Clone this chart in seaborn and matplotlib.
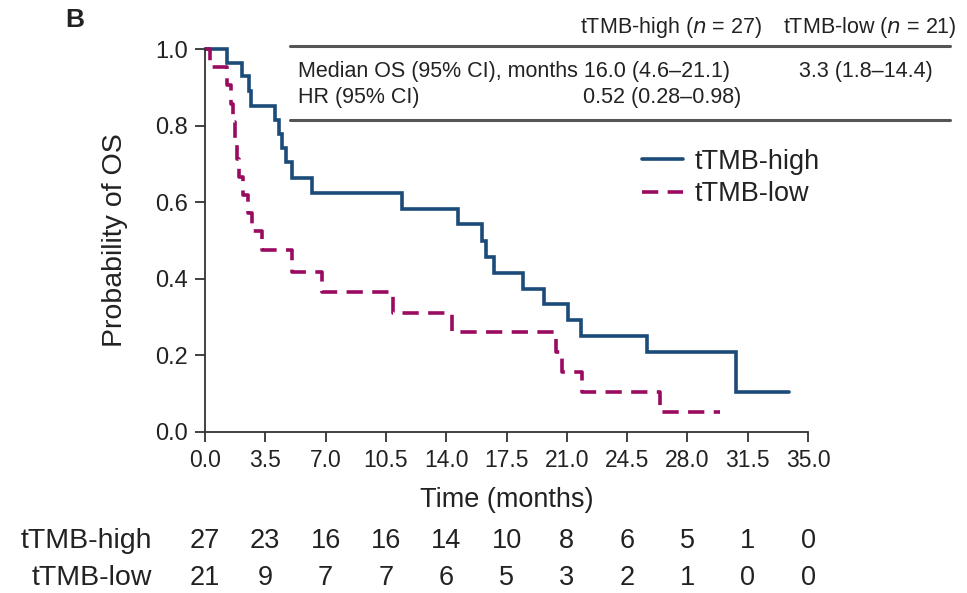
import numpy as np
import pandas as pd
import matplotlib
matplotlib.use("Agg")
import matplotlib.pyplot as plt
from matplotlib.lines import Line2D
import seaborn as sns

# Kaplan-Meier step estimates (time in months, survival probability)
high_time = [0.0, 1.25, 2.13, 2.57, 2.65, 4.07, 4.3, 4.45, 4.7, 5.04, 6.2,
             11.45, 14.7, 16.06, 16.3, 16.77, 18.47, 19.68, 21.09, 21.8,
             25.63, 30.82, 33.9]
high_surv = [1.0, 0.963, 0.930, 0.891, 0.852, 0.815, 0.778, 0.741, 0.704,
             0.662, 0.625, 0.583, 0.544, 0.500, 0.456, 0.416, 0.374, 0.335,
             0.292, 0.251, 0.209, 0.104, 0.104]

low_time = [0.0, 0.3, 1.3, 1.5, 1.62, 1.74, 1.86, 2.0, 2.2, 2.5, 2.71, 3.29,
            5.03, 6.78, 10.93, 14.36, 20.35, 20.75, 21.86, 26.4, 29.9]
low_surv = [1.0, 0.952, 0.905, 0.857, 0.810, 0.762, 0.714, 0.667, 0.619,
            0.571, 0.524, 0.476, 0.418, 0.366, 0.311, 0.262, 0.210, 0.157,
            0.105, 0.052, 0.052]

x_ticks = [0.0, 3.5, 7.0, 10.5, 14.0, 17.5, 21.0, 24.5, 28.0, 31.5, 35.0]
y_ticks = [0.0, 0.2, 0.4, 0.6, 0.8, 1.0]
at_risk_high = [27, 23, 16, 16, 14, 10, 8, 6, 5, 1, 0]
at_risk_low = [21, 9, 7, 7, 6, 5, 3, 2, 1, 0, 0]

groups = ["tTMB-high", "tTMB-low"]
colors = {"tTMB-high": "#1b4b78", "tTMB-low": "#9a0a60"}

df = pd.concat([
    pd.DataFrame({"time": high_time, "surv": high_surv, "group": groups[0]}),
    pd.DataFrame({"time": low_time, "surv": low_surv, "group": groups[1]}),
], ignore_index=True)

sns.set_theme(style="ticks")
plt.rcParams["font.family"] = ["Liberation Sans", "DejaVu Sans"]

W, H = 967, 593
fig = plt.figure(figsize=(W / 100, H / 100), dpi=100)
ax = fig.add_axes([205 / W, 1 - 432 / H, 603 / W, 383 / H])

for g, ls in zip(groups, ["-", (0, (4.5, 2.6))]):
    sub = df[df["group"] == g]
    sns.lineplot(data=sub, x="time", y="surv", ax=ax, color=colors[g],
                 estimator=None, sort=False, drawstyle="steps-post",
                 linewidth=2.6, linestyle=ls, label=g, clip_on=False,
                 solid_joinstyle="miter", dash_capstyle="butt")

ax.set_xlim(0, 35)
ax.set_ylim(0, 1.0)
ax.set_xticks(x_ticks)
ax.set_xticklabels([f"{t:.1f}" for t in x_ticks])
ax.set_yticks(y_ticks)
ax.set_yticklabels([f"{t:.1f}" for t in y_ticks])
ax.tick_params(axis="x", labelsize=16.5, length=7, width=1.3,
               color="#333333", labelcolor="#222222", pad=5)
ax.tick_params(axis="y", labelsize=17, length=7, width=1.3,
               color="#333333", labelcolor="#222222", pad=5)
for s in ["top", "right"]:
    ax.spines[s].set_visible(False)
for s in ["left", "bottom"]:
    ax.spines[s].set_linewidth(1.3)
    ax.spines[s].set_color("#333333")
ax.set_xlabel("Time (months)", fontsize=19.5, color="#222222", labelpad=11)
ax.set_ylabel("Probability of OS", fontsize=20.5, color="#222222", labelpad=20)

leg = ax.legend(loc="upper left", bbox_to_anchor=(0.725, 0.74), frameon=False,
                fontsize=19.5, handlelength=1.5, handletextpad=0.45,
                labelspacing=0.25, borderaxespad=0, borderpad=0)
for t in leg.get_texts():
    t.set_color("#222222")

# Panel letter
fig.text(65 / W, 1 - 20 / H, "B", fontsize=19, fontweight="bold",
         ha="left", va="center", color="#222222")

# Summary table
tfs = 15.5
fig.text(762 / W, 1 - 28 / H, r"tTMB-high ($\it{n}$ = 27)", fontsize=tfs,
         ha="right", va="center", color="#222222")
fig.text(957 / W, 1 - 28 / H, r"tTMB-low ($\it{n}$ = 21)", fontsize=tfs,
         ha="right", va="center", color="#222222")
for yy in (46, 120):
    fig.add_artist(Line2D([290 / W, 950 / W], [1 - yy / H, 1 - yy / H],
                          transform=fig.transFigure, color="#555555", lw=2.2))
fig.text(298 / W, 1 - 71 / H, "Median OS (95% CI), months 16.0 (4.6\u201321.1)",
         fontsize=tfs, ha="left", va="center", color="#222222")
fig.text(933 / W, 1 - 71 / H, "3.3 (1.8\u201314.4)", fontsize=tfs,
         ha="right", va="center", color="#222222")
fig.text(298 / W, 1 - 97 / H, "HR (95% CI)", fontsize=tfs,
         ha="left", va="center", color="#222222")
fig.text(741 / W, 1 - 97 / H, "0.52 (0.28\u20130.98)", fontsize=tfs,
         ha="right", va="center", color="#222222")

# Number at risk
trans = matplotlib.transforms.blended_transform_factory(ax.transData, fig.transFigure)
for label, counts, yy in ((groups[0], at_risk_high, 541), (groups[1], at_risk_low, 578)):
    fig.text(152 / W, 1 - yy / H, label, fontsize=20.5, ha="right",
             va="center", color="#222222")
    for t, n in zip(x_ticks, counts):
        ax.text(t, 1 - yy / H, str(n), transform=trans, fontsize=19.5,
                ha="center", va="center", color="#222222", clip_on=False)

fig.savefig("out.png", dpi=100)
